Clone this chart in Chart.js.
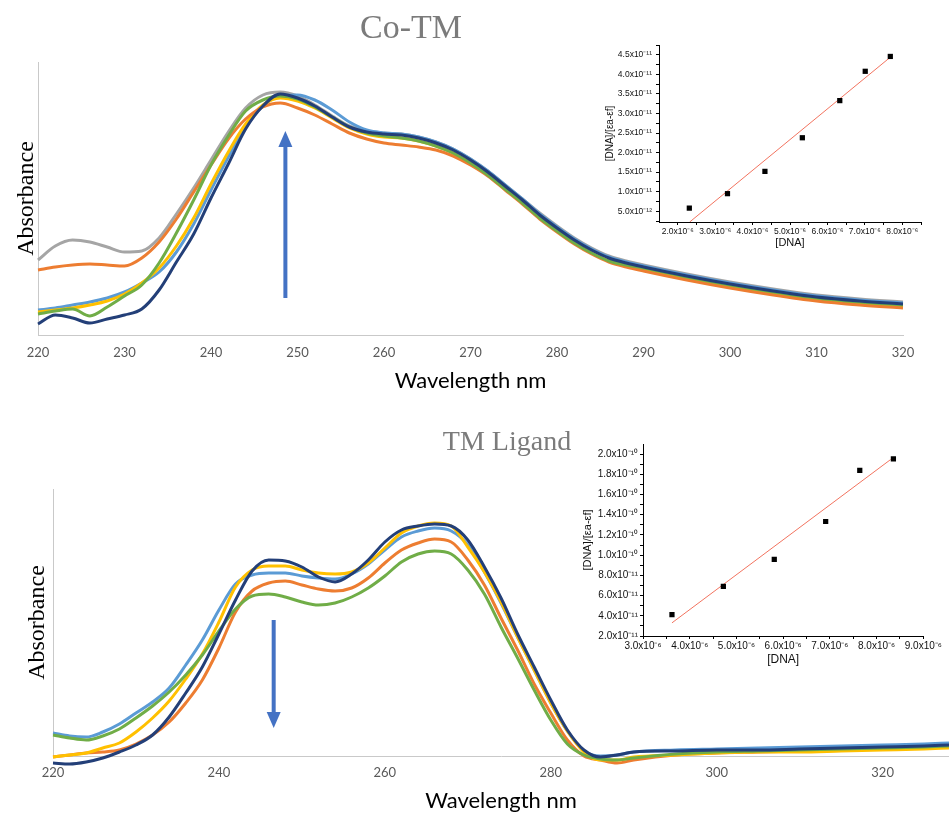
<!DOCTYPE html>
<html>
<head>
<meta charset="utf-8">
<script src="https://cdn.jsdelivr.net/npm/chart.js@4.4.1/dist/chart.umd.min.js"></script>
<style>
  html, body { margin: 0; padding: 0; background: #fff; }
  #page { position: relative; width: 949px; height: 814px; overflow: hidden; }
  canvas { position: absolute; }
  .title {
    position: absolute; transform: translate(-50%, -50%); white-space: nowrap;
    font-family: "Liberation Serif", "Times New Roman", serif; color: #7b7b7b;
  }
</style>
</head>
<body>
<div id="page">
  <canvas id="coMain" width="949" height="400" style="left:0;top:0"></canvas>
  <canvas id="ligMain" width="949" height="414" style="left:0;top:400px"></canvas>
  <canvas id="coInset" width="365" height="214" style="left:575px;top:36px"></canvas>
  <canvas id="ligInset" width="384" height="234" style="left:565px;top:436px"></canvas>
  <div class="title" style="left:411px;top:27px;font-size:34px">Co-TM</div>
  <div class="title" style="left:507px;top:441px;font-size:28px">TM Ligand</div>
</div>
<script>
// ---- Co-TM spectra (absorbance vs wavelength, nm)
const coWavelength = [220,222,224,226,228,230,232,234,236,238,240,242,244,246,248,250,252,254,256,258,260,262,264,266,268,270,272,274,276,278,280,282,284,286,288,290,295,300,305,310,315,320];
const coGray   = [0.75,0.89,0.95,0.93,0.88,0.83,0.84,0.97,1.21,1.47,1.75,2.03,2.27,2.40,2.43,2.39,2.30,2.19,2.09,2.04,2.02,2.01,1.98,1.93,1.86,1.76,1.64,1.50,1.36,1.22,1.09,0.97,0.87,0.79,0.74,0.70,0.61,0.53,0.46,0.40,0.36,0.33];
const coOrange = [0.65,0.68,0.70,0.71,0.70,0.69,0.77,0.93,1.16,1.43,1.70,1.96,2.16,2.28,2.32,2.27,2.20,2.11,2.02,1.96,1.92,1.90,1.88,1.85,1.79,1.70,1.59,1.45,1.31,1.16,1.03,0.91,0.81,0.73,0.68,0.64,0.55,0.47,0.40,0.34,0.30,0.27];
const coYellow = [0.23,0.25,0.27,0.30,0.34,0.41,0.52,0.67,0.89,1.17,1.51,1.83,2.11,2.30,2.37,2.34,2.27,2.17,2.07,2.01,1.98,1.97,1.94,1.89,1.82,1.72,1.60,1.46,1.32,1.17,1.04,0.92,0.82,0.74,0.69,0.66,0.57,0.49,0.42,0.36,0.32,0.29];
const coBlue   = [0.25,0.27,0.30,0.33,0.37,0.43,0.52,0.63,0.83,1.11,1.45,1.78,2.08,2.29,2.39,2.40,2.35,2.25,2.13,2.05,2.02,2.01,1.98,1.93,1.86,1.76,1.64,1.50,1.36,1.21,1.08,0.96,0.86,0.78,0.73,0.69,0.60,0.52,0.45,0.39,0.35,0.32];
const coGreen  = [0.21,0.24,0.26,0.19,0.28,0.39,0.50,0.72,1.02,1.35,1.70,1.99,2.24,2.35,2.39,2.36,2.28,2.18,2.08,2.02,1.99,1.97,1.94,1.89,1.82,1.72,1.60,1.46,1.32,1.17,1.04,0.92,0.82,0.74,0.70,0.67,0.58,0.50,0.43,0.37,0.33,0.30];
const coNavy   = [0.11,0.20,0.17,0.12,0.16,0.20,0.26,0.45,0.73,1.01,1.37,1.71,2.06,2.29,2.41,2.37,2.29,2.18,2.08,2.03,2.01,2.00,1.97,1.92,1.85,1.75,1.63,1.49,1.35,1.20,1.07,0.95,0.85,0.77,0.72,0.68,0.59,0.51,0.44,0.38,0.34,0.31];
const coTicks = [220,230,240,250,260,270,280,290,300,310,320];

// ---- TM ligand spectra
const ligWavelength = [220,222,224,226,228,230,232,234,236,238,240,242,244,246,248,250,252,254,256,258,260,262,264,266,268,270,272,274,276,278,280,282,284,286,288,290,295,300,305,310,315,320,325,328];
const ligBlue   = [0.23,0.20,0.19,0.24,0.32,0.43,0.54,0.68,0.91,1.16,1.46,1.72,1.81,1.83,1.83,1.80,1.78,1.77,1.82,1.92,2.06,2.19,2.25,2.28,2.25,2.11,1.84,1.53,1.19,0.86,0.53,0.25,0.05,0.00,0.01,0.04,0.06,0.07,0.08,0.09,0.10,0.11,0.12,0.13];
const ligOrange = [-0.01,0.01,0.03,0.04,0.06,0.12,0.21,0.34,0.53,0.76,1.08,1.44,1.65,1.73,1.75,1.71,1.67,1.65,1.68,1.78,1.93,2.06,2.13,2.17,2.14,1.96,1.71,1.38,1.06,0.72,0.43,0.16,0.00,-0.04,-0.07,-0.04,0.01,0.03,0.04,0.05,0.06,0.07,0.08,0.09];
const ligYellow = [-0.01,0.01,0.03,0.08,0.13,0.24,0.38,0.55,0.77,1.02,1.34,1.69,1.86,1.90,1.90,1.86,1.83,1.82,1.84,1.93,2.08,2.23,2.30,2.33,2.30,2.09,1.84,1.54,1.19,0.86,0.53,0.25,0.04,-0.04,-0.04,-0.01,0.01,0.03,0.04,0.04,0.05,0.06,0.07,0.08];
const ligGreen  = [0.21,0.18,0.16,0.20,0.27,0.38,0.50,0.64,0.81,1.01,1.25,1.47,1.60,1.62,1.59,1.54,1.51,1.53,1.59,1.68,1.80,1.94,2.02,2.05,2.02,1.86,1.62,1.29,0.98,0.66,0.36,0.12,0.01,-0.03,-0.04,-0.02,0.02,0.04,0.05,0.06,0.07,0.08,0.09,0.10];
const ligNavy   = [-0.07,-0.08,-0.06,-0.02,0.04,0.11,0.21,0.39,0.63,0.89,1.22,1.56,1.85,1.96,1.95,1.89,1.79,1.74,1.82,1.96,2.14,2.26,2.30,2.32,2.30,2.16,1.89,1.58,1.22,0.89,0.56,0.26,0.06,-0.01,0.01,0.04,0.05,0.06,0.06,0.07,0.08,0.09,0.10,0.11];
const ligTicks = [220,240,260,280,300,320];

// ---- insets: [DNA] vs [DNA]/[εa-εf]
const coDna      = [2.31e-6, 3.33e-6, 4.33e-6, 5.33e-6, 6.33e-6, 7.01e-6, 7.68e-6];
const coRatio    = [5.8e-12, 9.5e-12, 1.52e-11, 2.38e-11, 3.33e-11, 4.08e-11, 4.46e-11];
const coFitDna   = [2.32e-6, 7.68e-6];
const coFitRatio = [2.25e-12, 4.44e-11];
const coInsetXTicks  = [2e-6, 3e-6, 4e-6, 5e-6, 6e-6, 7e-6, 8e-6];
const coInsetXLabels = ['2.0x10⁻⁶','3.0x10⁻⁶','4.0x10⁻⁶','5.0x10⁻⁶','6.0x10⁻⁶','7.0x10⁻⁶','8.0x10⁻⁶'];
const coInsetXMinor  = [2.5e-6, 3.5e-6, 4.5e-6, 5.5e-6, 6.5e-6, 7.5e-6, 8.5e-6];
const coInsetYTicks  = [5e-12, 1e-11, 1.5e-11, 2e-11, 2.5e-11, 3e-11, 3.5e-11, 4e-11, 4.5e-11];
const coInsetYLabels = ['5.0x10⁻¹²','1.0x10⁻¹¹','1.5x10⁻¹¹','2.0x10⁻¹¹','2.5x10⁻¹¹','3.0x10⁻¹¹','3.5x10⁻¹¹','4.0x10⁻¹¹','4.5x10⁻¹¹'];
const coInsetYMinor  = [2.5e-12, 7.5e-12, 1.25e-11, 1.75e-11, 2.25e-11, 2.75e-11, 3.25e-11, 3.75e-11, 4.25e-11, 4.75e-11];

const ligDna      = [3.62e-6, 4.72e-6, 5.81e-6, 6.91e-6, 7.64e-6, 8.36e-6];
const ligRatio    = [4.12e-11, 6.91e-11, 9.59e-11, 1.333e-10, 1.838e-10, 1.952e-10];
const ligFitDna   = [3.62e-6, 8.30e-6];
const ligFitRatio = [3.30e-11, 1.946e-10];
const ligInsetXTicks  = [3e-6, 4e-6, 5e-6, 6e-6, 7e-6, 8e-6, 9e-6];
const ligInsetXLabels = ['3.0x10⁻⁶','4.0x10⁻⁶','5.0x10⁻⁶','6.0x10⁻⁶','7.0x10⁻⁶','8.0x10⁻⁶','9.0x10⁻⁶'];
const ligInsetXMinor  = [3.5e-6, 4.5e-6, 5.5e-6, 6.5e-6, 7.5e-6, 8.5e-6];
const ligInsetYTicks  = [2e-11, 4e-11, 6e-11, 8e-11, 1e-10, 1.2e-10, 1.4e-10, 1.6e-10, 1.8e-10, 2e-10];
const ligInsetYLabels = ['2.0x10⁻¹¹','4.0x10⁻¹¹','6.0x10⁻¹¹','8.0x10⁻¹¹','1.0x10⁻¹⁰','1.2x10⁻¹⁰','1.4x10⁻¹⁰','1.6x10⁻¹⁰','1.8x10⁻¹⁰','2.0x10⁻¹⁰'];
const ligInsetYMinor  = [3e-11, 5e-11, 7e-11, 9e-11, 1.1e-10, 1.3e-10, 1.5e-10, 1.7e-10, 1.9e-10];

const colors = {
  gray: '#a5a5a5', orange: '#ed7d31', yellow: '#ffc000',
  blue: '#5b9bd5', green: '#70ad47', navy: '#233f78'
};
const arrowColor = '#4472c4';

const lineSet = (xs, ys, color) => ({
  data: xs.map((x, i) => ({ x, y: ys[i] })),
  borderColor: color,
  borderWidth: 3,
  pointRadius: 0,
  cubicInterpolationMode: 'monotone',
  clip: false,
  fill: false,
});

// vertical arrow, placed in data coordinates
const arrowPlugin = {
  id: 'arrow',
  afterDatasetsDraw(chart, args, opts) {
    const { ctx, scales: { x, y } } = chart;
    const px = x.getPixelForValue(opts.at);
    const y0 = y.getPixelForValue(opts.from);
    const y1 = y.getPixelForValue(opts.to);
    const dir = Math.sign(y1 - y0);
    const head = 16, half = 7;
    ctx.save();
    ctx.strokeStyle = ctx.fillStyle = opts.color;
    ctx.lineWidth = 4;
    ctx.beginPath();
    ctx.moveTo(px, y0);
    ctx.lineTo(px, y1 - dir * head);
    ctx.stroke();
    ctx.beginPath();
    ctx.moveTo(px, y1);
    ctx.lineTo(px - half, y1 - dir * head);
    ctx.lineTo(px + half, y1 - dir * head);
    ctx.closePath();
    ctx.fill();
    ctx.restore();
  },
};

const spectrumChart = (id, o) =>
  new Chart(document.getElementById(id), {
    type: 'line',
    data: { datasets: o.datasets },
    plugins: [arrowPlugin],
    options: {
      responsive: false,
      animation: false,
      events: [],
      layout: { autoPadding: false, padding: o.padding },
      plugins: { legend: { display: false }, tooltip: { enabled: false }, arrow: o.arrow },
      scales: {
        x: {
          type: 'linear', min: o.xMin, max: o.xMax,
          afterBuildTicks: s => { s.ticks = o.ticks.map(v => ({ value: v })); },
          afterFit: s => { s.height = o.xHeight; },
          grid: { display: false, drawTicks: false },
          border: { display: true, color: '#c9c9c9', width: 1 },
          ticks: {
            padding: o.tickPad, color: '#595959', maxRotation: 0, autoSkip: false,
            font: { family: 'Lato', size: 13 },
          },
          title: {
            display: true, text: 'Wavelength nm', color: '#000',
            font: { family: 'Lato', size: 22 }, padding: { top: 0, bottom: o.titlePad },
          },
        },
        y: {
          min: 0, max: o.yMax,
          afterFit: s => { s.width = o.yWidth; },
          grid: { display: false, drawTicks: false },
          border: { display: true, color: '#c9c9c9', width: 1 },
          ticks: { display: false },
          title: {
            display: true, text: 'Absorbance', color: '#000',
            font: { family: 'Liberation Serif', size: 24 }, padding: { top: o.yTitlePad, bottom: 0 },
          },
        },
      },
    },
  });

const insetAxis = (o) => ({
  type: 'linear', min: o.min, max: o.max,
  afterBuildTicks: s => {
    s.ticks = [...o.ticks, ...o.minor].sort((a, b) => a - b).map(v => ({ value: v }));
  },
  afterFit: o.fit,
  grid: { display: true, drawOnChartArea: false, drawTicks: true, tickLength: 3, color: '#000' },
  border: { display: true, color: '#000', width: 1 },
  ticks: {
    padding: o.pad, color: '#111', maxRotation: 0, autoSkip: false,
    font: { family: '"Liberation Sans", Arial, sans-serif', size: o.fontSize },
    callback: v => { const i = o.ticks.indexOf(v); return i < 0 ? '' : o.labels[i]; },
  },
  title: {
    display: true, text: o.title, color: '#111',
    font: { family: '"Liberation Sans", Arial, sans-serif', size: o.titleSize },
    padding: o.titlePad,
  },
});

const insetChart = (id, o) =>
  new Chart(document.getElementById(id), {
    type: 'scatter',
    data: {
      datasets: [
        {
          data: o.xs.map((x, i) => ({ x, y: o.ys[i] })),
          pointStyle: 'rect', pointRadius: 3.7, backgroundColor: '#000', borderWidth: 0,
        },
        {
          data: o.fitX.map((x, i) => ({ x, y: o.fitY[i] })),
          showLine: true, borderColor: '#f2735f', borderWidth: 1, pointRadius: 0,
        },
      ],
    },
    options: {
      responsive: false,
      animation: false,
      events: [],
      layout: { autoPadding: false, padding: o.padding },
      plugins: { legend: { display: false }, tooltip: { enabled: false } },
      scales: { x: insetAxis(o.x), y: insetAxis(o.y) },
    },
  });

spectrumChart('coMain', {
  datasets: [
    lineSet(coWavelength, coNavy, colors.navy),
    lineSet(coWavelength, coGreen, colors.green),
    lineSet(coWavelength, coOrange, colors.orange),
    lineSet(coWavelength, coYellow, colors.yellow),
    lineSet(coWavelength, coBlue, colors.blue),
    lineSet(coWavelength, coGray, colors.gray),
  ],
  xMin: 220, xMax: 320, yMax: 2.73, ticks: coTicks,
  padding: { top: 62, right: 46, left: 0, bottom: 0 },
  xHeight: 65, yWidth: 38, tickPad: 10, titlePad: 6, yTitlePad: 12,
  arrow: { at: 248.6, from: 0.37, to: 2.04, color: arrowColor },
});

spectrumChart('ligMain', {
  datasets: [
    lineSet(ligWavelength, ligNavy, colors.navy),
    lineSet(ligWavelength, ligGreen, colors.green),
    lineSet(ligWavelength, ligYellow, colors.yellow),
    lineSet(ligWavelength, ligOrange, colors.orange),
    lineSet(ligWavelength, ligBlue, colors.blue),
  ],
  xMin: 220, xMax: 328, yMax: 2.67, ticks: ligTicks,
  padding: { top: 89, right: 0, left: 0, bottom: 0 },
  xHeight: 58, yWidth: 53, tickPad: 9, titlePad: 0, yTitlePad: 23,
  arrow: { at: 246.6, from: 1.36, to: 0.28, color: arrowColor },
});

insetChart('coInset', {
  xs: coDna, ys: coRatio, fitX: coFitDna, fitY: coFitRatio,
  padding: { top: 5, right: 19, left: 0, bottom: 0 },
  x: {
    min: 1.5e-6, max: 8.5e-6, ticks: coInsetXTicks, labels: coInsetXLabels, minor: coInsetXMinor,
    fit: s => { s.height = 28; }, pad: 2, fontSize: 8.5,
    title: '[DNA]', titleSize: 11, titlePad: { top: 0, bottom: 0 },
  },
  y: {
    min: 2.25e-12, max: 4.75e-11, ticks: coInsetYTicks, labels: coInsetYLabels, minor: coInsetYMinor,
    fit: s => { s.width = 84; }, pad: 4, fontSize: 8.5,
    title: '[DNA]/[εa-εf]', titleSize: 10, titlePad: { top: 29, bottom: 0 },
  },
});

insetChart('ligInset', {
  xs: ligDna, ys: ligRatio, fitX: ligFitDna, fitY: ligFitRatio,
  padding: { top: 5.7, right: 25.7, left: 0, bottom: 0 },
  x: {
    min: 3e-6, max: 9e-6, ticks: ligInsetXTicks, labels: ligInsetXLabels, minor: ligInsetXMinor,
    fit: s => { s.height = 34; }, pad: 1, fontSize: 10,
    title: '[DNA]', titleSize: 12, titlePad: { top: 0, bottom: 3 },
  },
  y: {
    min: 2e-11, max: 2.1e-10, ticks: ligInsetYTicks, labels: ligInsetYLabels, minor: ligInsetYMinor,
    fit: s => { s.width = 78; }, pad: 2, fontSize: 10,
    title: '[DNA]/[εa-εf]', titleSize: 11, titlePad: { top: 16, bottom: 0 },
  },
});
</script>
</body>
</html>
